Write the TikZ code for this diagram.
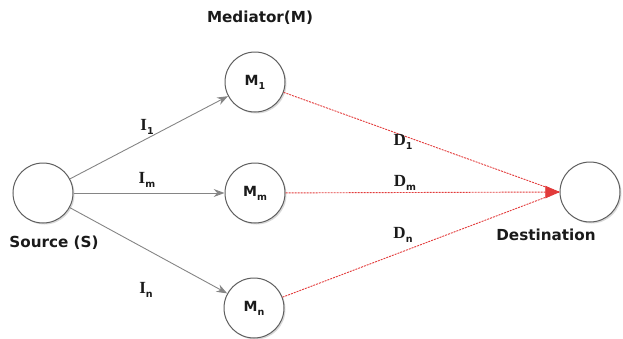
\documentclass[tikz,border=0pt]{standalone}
\usepackage{fontspec}
\setmainfont{DejaVu Sans}
\newfontfamily\labelfont{Liberation Serif}
\usepackage{xcolor}
\definecolor{cEdge}{HTML}{858585}
\definecolor{cRing}{HTML}{5E5E5E}
\definecolor{cLink}{HTML}{E23B3B}
\definecolor{cText}{HTML}{1A1A1A}
\usetikzlibrary{positioning,arrows.meta,shadows}
\tikzset{
  node-peer/.style={draw=cRing,line width=1pt,circle,fill=white,minimum size=60pt,
    inner sep=0pt,drop shadow={opacity=0.3,shadow xshift=1.5pt,shadow yshift=-1.5pt},
    font=\bfseries\fontsize{14}{14}\selectfont,text=cText},
  node-caption/.style={font=\bfseries\fontsize{15.2}{15}\selectfont,text=cText},
  node-link/.style={font=\labelfont\bfseries\fontsize{17}{17}\selectfont,text=cText},
  arrow-hop/.style={-{Stealth[length=3.8mm,width=2.8mm]},line width=0.9pt,draw=cEdge},
  arrow-relay/.style={line width=0.9pt,draw=cLink,dash pattern=on 2pt off 1pt},
}
\newcommand{\sub}[1]{\raisebox{-0.5ex}{\rmfamily\fontsize{9.5}{9.5}\selectfont#1}}

\begin{document}
\begin{tikzpicture}[x=1pt,y=-1pt]
  \useasboundingbox (0,0) rectangle (623,338);
  % nodes
  \node[node-peer] (src) at (43,193) {};
  \node[node-peer] (med1) at (255,82) {M\sub{1}};
  \node[node-peer] (medm) at (255,193) {M\sub{m}};
  \node[node-peer] (medn) at (254,308) {M\sub{n}};
  \node[node-peer] (dst) at (590,192) {};
  % captions
  \node[node-caption] (capm) at (260,18) {Mediator(M)};
  \node[node-caption] (caps) at (54,243) {Source (S)};
  \node[node-caption] (capd) at (546,235) {Destination};
  % source to mediators
  \draw[arrow-hop] (src) -- (med1);
  \draw[arrow-hop] (src) -- (medm);
  \draw[arrow-hop] (src) -- (medn);
  \node[node-link] at (147,127) {I\sub{1}};
  \node[node-link] at (147,180) {I\sub{m}};
  \node[node-link] at (146,290) {I\sub{n}};
  % mediators to destination
  \draw[arrow-relay] (med1) -- (dst.west);
  \draw[arrow-relay] (medn) -- (dst.west);
  \draw[arrow-relay,-{Triangle[length=5mm,width=4.4mm]}] (medm) -- (dst.west);
  \node[node-link] at (403,142) {D\sub{1}};
  \node[node-link] at (405,183) {D\sub{m}};
  \node[node-link] at (403,235) {D\sub{n}};
\end{tikzpicture}
\end{document}
